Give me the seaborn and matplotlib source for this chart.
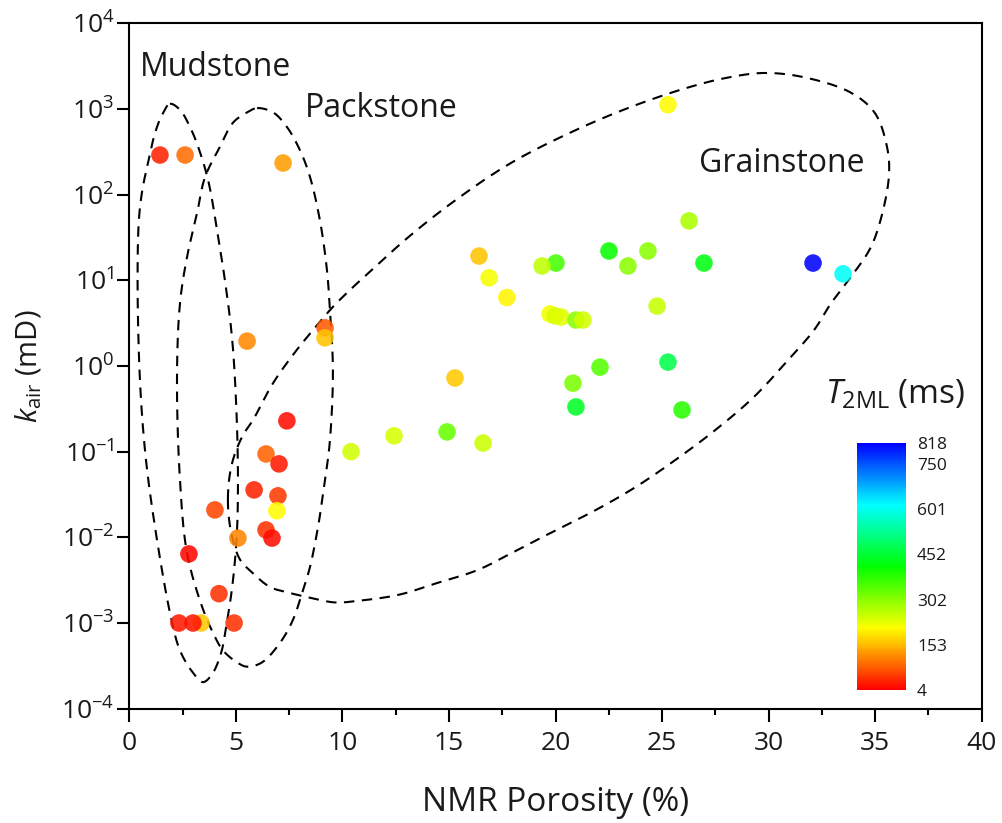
import numpy as np
import pandas as pd
import matplotlib
matplotlib.use("Agg")
import matplotlib.pyplot as plt
import seaborn as sns
from matplotlib.colors import LinearSegmentedColormap, Normalize
from matplotlib.cm import ScalarMappable

# ---------------- data ----------------
porosity = [1.43, 2.61, 7.21, 16.41, 16.88, 17.72, 19.74, 19.98, 20.26, 20.96,
            21.29, 20.02, 19.37, 22.51, 23.40, 24.34, 24.77, 25.28, 22.09, 20.82,
            20.96, 25.94, 15.28, 9.18, 9.18, 10.40, 12.42, 14.91, 16.60, 26.27,
            26.97, 32.09, 33.50, 5.52, 7.39, 6.41, 7.02, 5.85, 6.97, 6.92,
            4.01, 6.41, 6.69, 5.09, 2.79, 4.20, 2.32, 3.36, 2.98, 4.91, 25.28]
k_air = [290, 290, 234, 19.2, 10.7, 6.3, 4.05, 3.84, 3.73, 3.44,
         3.44, 15.9, 14.7, 22.0, 14.7, 22.0, 5.0, 1.11, 0.97, 0.63,
         0.333, 0.307, 0.724, 2.79, 2.13, 0.100, 0.153, 0.170, 0.126, 49.4,
         15.9, 15.9, 11.9, 1.95, 0.229, 0.094, 0.072, 0.0358, 0.0305, 0.0204,
         0.0209, 0.0122, 0.0098, 0.0098, 0.0064, 0.0022, 0.001, 0.001, 0.001, 0.001, 1120]
t2ml = [30, 90, 130, 160, 215, 200, 215, 240, 230, 300,
        245, 360, 260, 405, 300, 300, 255, 470, 345, 315,
        440, 380, 165, 75, 160, 245, 240, 330, 250, 275,
        425, 818, 610, 115, 15, 85, 25, 30, 50, 205,
        60, 45, 15, 110, 12, 45, 25, 165, 20, 45, 205]

cbar_ticks = [4, 153, 302, 452, 601, 750, 818]
x_ticks = [0, 5, 10, 15, 20, 25, 30, 35, 40]
y_decades = [-4, -3, -2, -1, 0, 1, 2, 3, 4]

# outlines of the facies groups (porosity, log10 k)
mud_x = [1.90, 2.37, 2.84, 3.22, 3.69, 4.11, 4.48, 4.81, 5.00, 5.09, 5.05, 4.86, 4.62,
         4.30, 3.87, 3.45, 2.98, 2.37, 1.90, 1.10, 0.73, 0.49, 0.38, 0.44, 0.60, 0.85, 1.20, 1.53]
mud_l = [3.06, 2.99, 2.79, 2.56, 2.17, 1.59, 1.00, 0.34, -0.40, -1.21, -1.91, -2.50, -2.92,
         -3.35, -3.60, -3.69, -3.58, -3.32, -2.88, -1.72, -0.99, -0.16, 0.95, 1.70, 2.05, 2.35, 2.72, 2.93]
pack_x = [5.99, 6.74, 7.39, 8.00, 8.47, 8.94, 9.27, 9.41, 9.55, 9.41, 9.18, 8.85, 8.47, 8.15,
          7.68, 7.07, 6.22, 5.52, 5.05, 4.39, 3.97, 3.38, 2.70, 2.37, 2.23, 2.37, 2.70, 3.17,
          3.54, 4.25, 4.86, 5.52]
pack_l = [3.01, 2.96, 2.79, 2.52, 2.21, 1.70, 1.12, 0.65, -0.05, -0.87, -1.33, -1.88, -2.35, -2.61,
          -2.96, -3.23, -3.46, -3.51, -3.46, -3.32, -3.14, -2.79, -2.18, -1.33, -0.13, 0.73, 1.27, 1.78,
          2.20, 2.56, 2.84, 2.96]
grain_x = [4.62, 4.80, 5.30, 5.80, 6.74, 7.86, 8.62, 9.55, 10.49, 11.24, 13.12, 15.33, 17.91,
           20.92, 23.50, 26.08, 27.96, 29.79, 31.67, 33.87, 35.00, 35.56, 35.66, 35.38, 34.81,
           33.87, 32.93, 32.14, 30.92, 29.32, 27.49, 25.61, 23.78, 21.90, 20.07, 18.19, 16.36,
           14.48, 12.65, 10.77, 9.65, 8.57, 7.54, 6.60, 5.80, 5.19, 4.78]
grain_l = [-1.56, -1.15, -0.82, -0.63, -0.20, 0.19, 0.42, 0.69, 0.92, 1.09, 1.51, 1.94, 2.37,
           2.75, 3.02, 3.24, 3.36, 3.42, 3.37, 3.19, 2.95, 2.56, 2.25, 1.82, 1.39,
           1.04, 0.73, 0.42, 0.07, -0.36, -0.75, -1.10, -1.41, -1.68, -1.91, -2.15, -2.38,
           -2.53, -2.67, -2.74, -2.76, -2.71, -2.65, -2.58, -2.42, -2.26, -1.95]

df = pd.DataFrame({"NMR Porosity": porosity, "k_air": k_air, "T2ML": t2ml})


def closed_spline(xs, ys, n=24, yscale=4.0, alpha=0.5):
    """Closed centripetal Catmull-Rom curve through the outline points."""
    S = np.array([1.0, yscale])
    P = np.column_stack([xs, ys]) * S
    m = len(P)
    out = []
    for i in range(m):
        p0, p1, p2, p3 = P[(i - 1) % m], P[i], P[(i + 1) % m], P[(i + 2) % m]
        t0 = 0.0
        t1 = t0 + np.linalg.norm(p1 - p0) ** alpha
        t2 = t1 + np.linalg.norm(p2 - p1) ** alpha
        t3 = t2 + np.linalg.norm(p3 - p2) ** alpha
        t = np.linspace(t1, t2, n, endpoint=False)[:, None]
        A1 = (t1 - t) / (t1 - t0) * p0 + (t - t0) / (t1 - t0) * p1
        A2 = (t2 - t) / (t2 - t1) * p1 + (t - t1) / (t2 - t1) * p2
        A3 = (t3 - t) / (t3 - t2) * p2 + (t - t2) / (t3 - t2) * p3
        B1 = (t2 - t) / (t2 - t0) * A1 + (t - t0) / (t2 - t0) * A2
        B2 = (t3 - t) / (t3 - t1) * A2 + (t - t1) / (t3 - t1) * A3
        C = (t2 - t) / (t2 - t1) * B1 + (t - t1) / (t2 - t1) * B2
        out.append(C)
    out.append(P[:1])
    return np.vstack(out) / S


# ---------------- style ----------------
sns.set_style("ticks")
FONT = "Open Sans"
plt.rcParams["font.family"] = [FONT, "DejaVu Sans"]
plt.rcParams["font.weight"] = "normal"
plt.rcParams["mathtext.fontset"] = "custom"
plt.rcParams["mathtext.rm"] = "Open Sans"
plt.rcParams["mathtext.it"] = "Open Sans:italic"
plt.rcParams["mathtext.default"] = "regular"
plt.rcParams["axes.unicode_minus"] = True
TXT = "#1a1a1a"

cmap = LinearSegmentedColormap.from_list(
    "t2", ["#ff0000", "#ffff00", "#00ff00", "#00ffff", "#0000ff"])
norm = Normalize(vmin=4, vmax=818)

fig = plt.figure(figsize=(10.03, 8.23), dpi=100)
ax = fig.add_axes([0.1291, 0.1389, 0.8495, 0.8328])

sns.scatterplot(data=df, x="NMR Porosity", y="k_air", hue="T2ML", palette=cmap,
                hue_norm=norm, legend=False, s=160, alpha=0.87, linewidth=0, ax=ax, zorder=3)

ax.set_yscale("log")
ax.set_xlim(0, 40)
ax.set_ylim(1e-4, 1e4)

for xs, ls in [(mud_x, mud_l), (pack_x, pack_l), (grain_x, grain_l)]:
    C = closed_spline(xs, ls)
    ax.plot(C[:, 0], 10 ** C[:, 1], color="black", lw=1.5, linestyle=(0, (5, 3.6)), zorder=2)

ax.set_xticks(x_ticks)
ax.set_xticklabels([str(v) for v in x_ticks])
ax.set_xticks(np.arange(2.5, 40, 5), minor=True)
ax.set_yticks([10.0 ** d for d in y_decades])
ax.set_yticklabels(["10$^{%d}$" % d if d >= 0 else "10$^{\u2212%d}$" % (-d) for d in y_decades])
ax.yaxis.set_minor_locator(matplotlib.ticker.NullLocator())

ax.tick_params(axis="both", which="major", direction="out", length=9, width=1.5,
               labelsize=19, color="black", labelcolor=TXT)
ax.tick_params(axis="x", which="major", pad=7)
ax.tick_params(axis="y", which="major", pad=2)
ax.tick_params(axis="x", which="minor", direction="out", length=4, width=1.5, color="black")
ax.tick_params(top=False, right=False)
for sp in ax.spines.values():
    sp.set_linewidth(1.5)
    sp.set_color("black")

ax.set_xlabel("NMR Porosity (%)", fontsize=24, labelpad=22, color=TXT)
ax.set_ylabel(r"$\mathit{k}_{\mathrm{air}}$ (mD)", fontsize=21, labelpad=12, color=TXT)

ax.text(0.0123, 0.935, "Mudstone", transform=ax.transAxes, ha="left", va="center",
        fontsize=23, color=TXT)
ax.text(0.206, 0.876, "Packstone", transform=ax.transAxes, ha="left", va="center",
        fontsize=23, color=TXT)
ax.text(0.668, 0.796, "Grainstone", transform=ax.transAxes, ha="left", va="center",
        fontsize=23, color=TXT)
ax.text(0.898, 0.458, r"$\mathit{T}_{\mathrm{2ML}}$ (ms)", transform=ax.transAxes,
        ha="center", va="center", fontsize=24, color=TXT)

cax = fig.add_axes([0.8544, 0.1616, 0.0489, 0.300])
cb = fig.colorbar(ScalarMappable(norm=norm, cmap=cmap), cax=cax)
cb.outline.set_visible(False)
cb.set_ticks(cbar_ticks)
cb.set_ticklabels([str(t) for t in cbar_ticks])
cax.tick_params(length=0, labelsize=12.5, pad=8, labelcolor=TXT)

fig.savefig("out.png", dpi=100)
